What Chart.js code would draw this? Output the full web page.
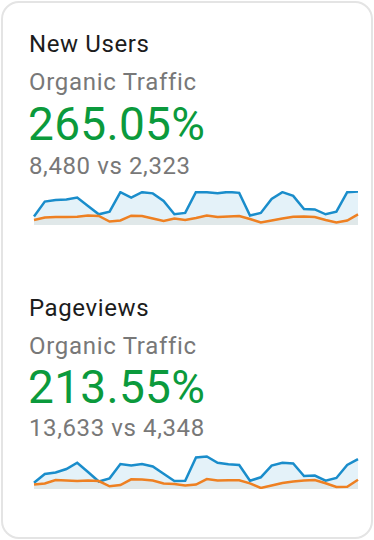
<!DOCTYPE html>
<html>
<head>
<meta charset="utf-8">
<script src="https://cdn.jsdelivr.net/npm/chart.js@4"></script>
<style>
  html, body { margin: 0; padding: 0; background: #fff; }
  body { width: 374px; height: 540px; position: relative; overflow: hidden; font-family: Roboto, "Noto Sans", sans-serif; }
  .card { position: absolute; left: 1px; top: 1px; width: 368px; height: 534px; border: 2px solid #e4e4e4; border-radius: 18px; }
  .txt { position: absolute; left: 29px; line-height: 1; white-space: nowrap; }
  .title { font-size: 24px; color: #1c1c1c; letter-spacing: 0.6px; }
  .sub { font-size: 24px; color: #787878; letter-spacing: 0.7px; }
  .pct { font-size: 46px; color: #0b9a3c; left: 28px; letter-spacing: 0.3px; }
  .cmp { font-size: 24px; color: #787878; letter-spacing: 0.6px; }
  canvas { position: absolute; left: 32px; }
</style>
</head>
<body>
<div class="card"></div>

<div class="txt title" style="top:32px">New Users</div>
<div class="txt sub" style="top:70px">Organic Traffic</div>
<div class="txt pct" style="top:101px">265.05%</div>
<div class="txt cmp" style="top:154px">8,480 vs 2,323</div>
<canvas id="chartUsers" width="328" height="38" style="top:189px"></canvas>

<div class="txt title" style="top:296px">Pageviews</div>
<div class="txt sub" style="top:334px">Organic Traffic</div>
<div class="txt pct" style="top:364px">213.55%</div>
<div class="txt cmp" style="top:416px">13,633 vs 4,348</div>
<canvas id="chartViews" width="328" height="38" style="top:453px"></canvas>

<script>
// dias do período (31 pontos)
const days = Array.from({ length: 31 }, (_, i) => 'Day ' + (i + 1));

// New Users - período atual e anterior
const usersNow = [100, 275, 295, 301, 322, 224, 126, 157, 386, 322, 386, 372, 283, 126, 142,
                  389, 384, 374, 389, 378, 112, 142, 307, 386, 342, 189, 183, 126, 157, 386, 393];
const usersPrev = [59, 89, 94, 94, 98, 112, 106, 41, 53, 110, 106, 77, 47, 77, 59,
                   83, 112, 94, 100, 106, 71, 30, 53, 77, 97, 100, 94, 59, 30, 53, 124];

// Pageviews - período atual e anterior
const viewsNow = [148, 353, 388, 470, 618, 400, 176, 251, 588, 552, 588, 529, 357, 188, 195,
                  740, 764, 616, 580, 564, 195, 275, 552, 618, 599, 306, 317, 195, 259, 564, 705];
const viewsPrev = [106, 129, 212, 200, 188, 200, 188, 63, 94, 228, 223, 200, 129, 118, 82,
                   106, 235, 200, 207, 207, 134, 24, 82, 141, 176, 200, 212, 134, 47, 54, 219];

const blue = '#1a8dcb';
const orange = '#ee8022';

// cria um sparkline com as duas séries
function sparkline(id, current, previous, yMax) {
    const ctx = document.getElementById(id).getContext('2d');
    return new Chart(ctx, {
        type: 'line',
        data: {
            labels: days,
            datasets: [{
                data: current,
                borderColor: blue,
                backgroundColor: 'rgba(5, 141, 199, 0.11)',
                borderWidth: 2.5,
                fill: 'origin',
                order: 1   // desenhada primeiro
            }, {
                data: previous,
                borderColor: orange,
                backgroundColor: 'rgba(200, 150, 100, 0.1)',
                borderWidth: 2.5,
                fill: 'origin',
                order: 0   // linha laranja por cima
            }]
        },
        options: {
            responsive: false,
            animation: false,
            devicePixelRatio: 1,
            layout: { padding: { left: 2, right: 2, top: 2, bottom: 2 } },
            elements: { point: { radius: 0 }, line: { tension: 0 } },
            scales: {
                x: { display: false },
                y: { display: false, min: 0, max: yMax }
            },
            plugins: {
                legend: { display: false },
                tooltip: { enabled: false }
            }
        }
    });
}

sparkline('chartUsers', usersNow, usersPrev, 400);
sparkline('chartViews', viewsNow, viewsPrev, 800);
</script>
</body>
</html>
